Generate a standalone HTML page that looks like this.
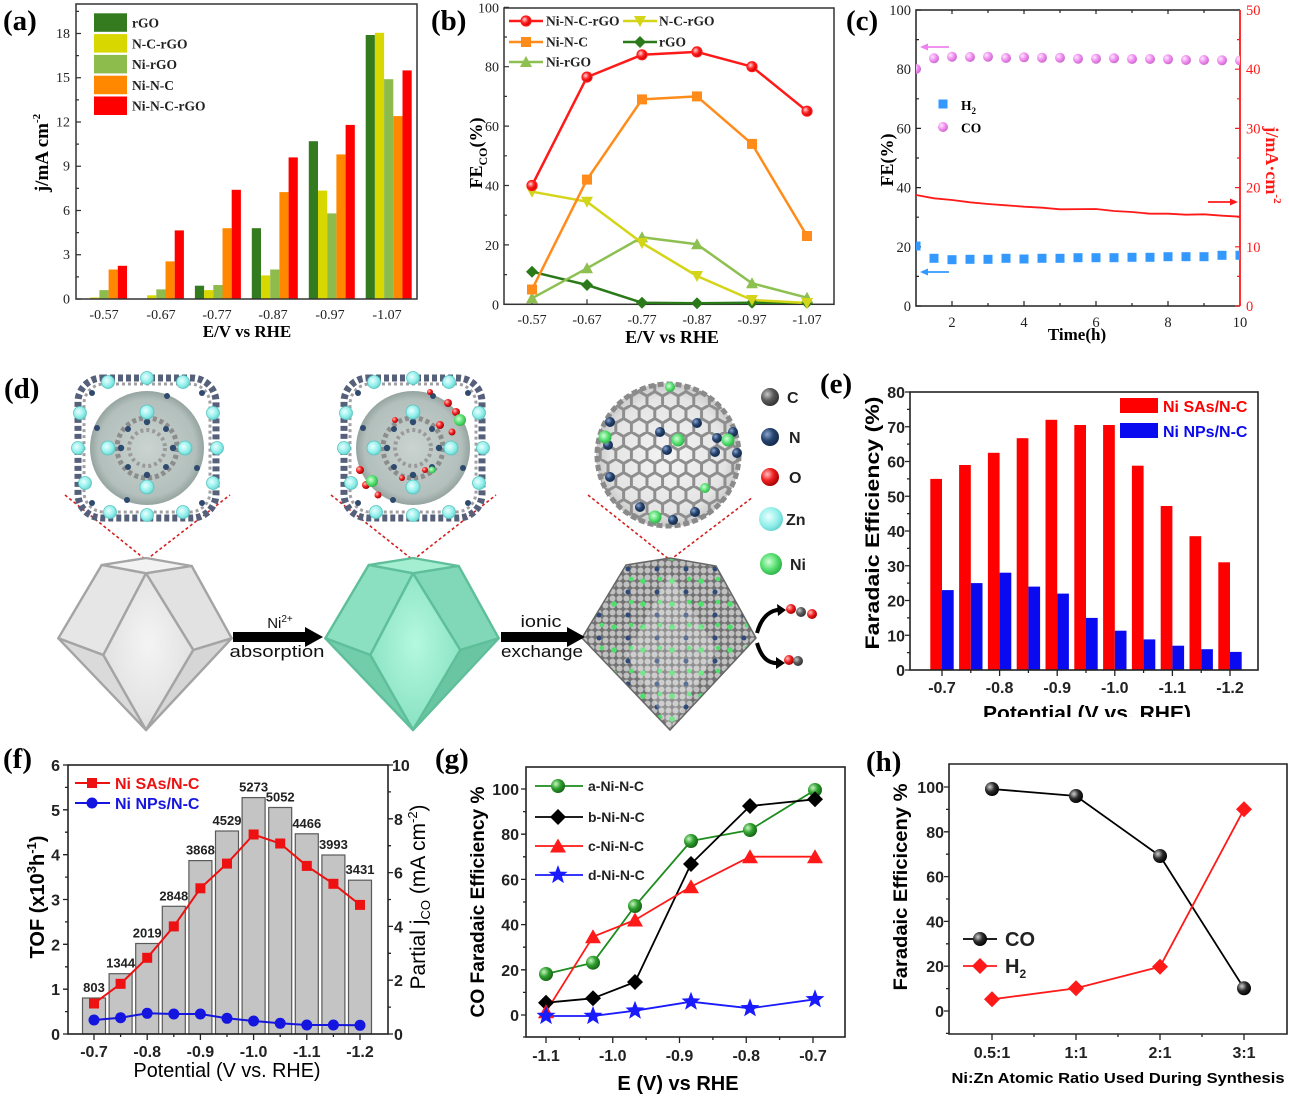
<!DOCTYPE html>
<html><head><meta charset="utf-8">
<style>
html,body{margin:0;padding:0;background:#fff;}
svg{display:block;}
.sf{font-family:"Liberation Serif",serif;}
.ss{font-family:"Liberation Sans",sans-serif;}
</style></head>
<body>
<svg width="1289" height="1099" viewBox="0 0 1289 1099" xmlns="http://www.w3.org/2000/svg" xmlns:xlink="http://www.w3.org/1999/xlink">
<defs>
<radialGradient id="gG" cx="0.35" cy="0.35" r="0.7"><stop offset="0" stop-color="#c8f5c0"/><stop offset="0.5" stop-color="#2ea02e"/><stop offset="1" stop-color="#156015"/></radialGradient>
<radialGradient id="gK" cx="0.35" cy="0.35" r="0.7"><stop offset="0" stop-color="#d0d0d0"/><stop offset="0.5" stop-color="#2a2a2a"/><stop offset="1" stop-color="#000"/></radialGradient>
<radialGradient id="gV" cx="0.35" cy="0.35" r="0.7"><stop offset="0" stop-color="#fde8fd"/><stop offset="0.55" stop-color="#f08cf0"/><stop offset="1" stop-color="#c868c8"/></radialGradient>
<radialGradient id="gR" cx="0.35" cy="0.35" r="0.7"><stop offset="0" stop-color="#ffd8d8"/><stop offset="0.5" stop-color="#ff2020"/><stop offset="1" stop-color="#c00000"/></radialGradient>
<radialGradient id="gC" cx="0.35" cy="0.35" r="0.7"><stop offset="0" stop-color="#c8c8c8"/><stop offset="0.5" stop-color="#5a5a5a"/><stop offset="1" stop-color="#303030"/></radialGradient>
<radialGradient id="gN" cx="0.35" cy="0.35" r="0.7"><stop offset="0" stop-color="#8aa6d0"/><stop offset="0.5" stop-color="#27446e"/><stop offset="1" stop-color="#12284a"/></radialGradient>
<radialGradient id="gO" cx="0.35" cy="0.35" r="0.7"><stop offset="0" stop-color="#ffc0c0"/><stop offset="0.5" stop-color="#f02020"/><stop offset="1" stop-color="#a00000"/></radialGradient>
<radialGradient id="gZ" cx="0.4" cy="0.4" r="0.7"><stop offset="0" stop-color="#eaffff"/><stop offset="0.6" stop-color="#8feeea"/><stop offset="1" stop-color="#5cc8c4"/></radialGradient>
<radialGradient id="gNi" cx="0.4" cy="0.4" r="0.7"><stop offset="0" stop-color="#d0ffd8"/><stop offset="0.55" stop-color="#50dd6a"/><stop offset="1" stop-color="#28a040"/></radialGradient>
<radialGradient id="gFul" cx="0.5" cy="0.5" r="0.5"><stop offset="0" stop-color="#f4f4f4"/><stop offset="0.8" stop-color="#e4e4e4"/><stop offset="1" stop-color="#c8c8c8"/></radialGradient>
<radialGradient id="gSph" cx="0.5" cy="0.5" r="0.5"><stop offset="0" stop-color="#c4cecb"/><stop offset="0.85" stop-color="#aab8b4"/><stop offset="1" stop-color="#8a9a96"/></radialGradient>
<radialGradient id="gWF" cx="0.5" cy="0.45" r="0.6"><stop offset="0" stop-color="#f4f4f4"/><stop offset="1" stop-color="#dedede"/></radialGradient>
<radialGradient id="gGF" cx="0.5" cy="0.45" r="0.6"><stop offset="0" stop-color="#b4f8e0"/><stop offset="1" stop-color="#86e0c0"/></radialGradient>
<pattern id="hex" width="15.59" height="27" patternUnits="userSpaceOnUse"><path d="M7.8,0L15.59,4.5L15.59,13.5L7.8,18L0,13.5L0,4.5Z M7.8,18L7.8,27" fill="none" stroke="#8e8e8e" stroke-width="3"/></pattern>
<pattern id="balls" width="7" height="7" patternUnits="userSpaceOnUse"><rect width="7" height="7" fill="#727272"/><circle cx="3.5" cy="3.5" r="3" fill="#c0c0c0"/></pattern>
<pattern id="dots" width="29" height="23" patternUnits="userSpaceOnUse"><circle cx="5" cy="6" r="2.8" fill="#4ee06a"/><circle cx="19" cy="17" r="2.5" fill="#2e4a78"/><circle cx="22" cy="4" r="2.3" fill="#4ee06a"/></pattern>
<path id="tdn" d="M-6,-5H6L0,6Z"/>
<path id="tup" d="M-6,5H6L0,-6Z"/>
<path id="tup8" d="M-8,6.5H8L0,-7.5Z"/>
<path id="dia" d="M0,-6L6,0L0,6L-6,0Z"/>
<path id="dia8" d="M0,-8L8,0L0,8L-8,0Z"/>
<rect id="sq" x="-5" y="-5" width="10" height="10"/>
<rect id="sq4" x="-4.5" y="-4.5" width="9" height="9"/>
<path id="star" d="M0,-10L2.5,-3.4L9.5,-3.1L4,1.3L5.9,8.1L0,4.2L-5.9,8.1L-4,1.3L-9.5,-3.1L-2.5,-3.4Z"/>
<g id="mof">
 <circle r="57" fill="url(#gSph)" opacity="0.9"/>
 <rect x="-69" y="-70" width="138" height="140" rx="24" fill="none" stroke="#56607a" stroke-width="7" stroke-dasharray="5 3"/>
 <rect x="-63" y="-64" width="126" height="128" rx="20" fill="none" stroke="#a0a0a4" stroke-width="3" stroke-dasharray="3 3"/>
 <circle r="30" fill="none" stroke="#8c8c8c" stroke-width="5" stroke-dasharray="4 3"/>
 <circle r="18" fill="none" stroke="#9a9a9a" stroke-width="4" stroke-dasharray="3 3"/>
 <g fill="#2e4a6e">
  <circle cx="0" cy="-26" r="3.2"/><circle cx="0" cy="27" r="3.2"/><circle cx="-26" cy="0" r="3.2"/><circle cx="26" cy="0" r="3.2"/>
  <circle cx="-19" cy="-19" r="3"/><circle cx="19" cy="19" r="3"/><circle cx="19" cy="-19" r="3"/><circle cx="-19" cy="19" r="3"/>
  <circle cx="-55" cy="-55" r="3"/><circle cx="55" cy="-55" r="3"/><circle cx="-55" cy="55" r="3"/><circle cx="55" cy="55" r="3"/>
  <circle cx="-50" cy="-20" r="3"/><circle cx="50" cy="20" r="3"/><circle cx="-20" cy="52" r="3"/><circle cx="20" cy="-52" r="3"/>
 </g>
 <g fill="url(#gZ)" stroke="#5ac4c0" stroke-width="0.8">
  <circle cx="-39" cy="-66" r="6.5"/><circle cx="0" cy="-70" r="6.5"/><circle cx="36" cy="-66" r="6.5"/>
  <circle cx="-67" cy="-35" r="6.5"/><circle cx="-69" cy="0" r="6.5"/><circle cx="-62" cy="35" r="6.5"/>
  <circle cx="66" cy="-35" r="6.5"/><circle cx="70" cy="0" r="6.5"/><circle cx="66" cy="35" r="6.5"/>
  <circle cx="-37" cy="64" r="6.5"/><circle cx="0" cy="67" r="6.5"/><circle cx="36" cy="64" r="6.5"/>
  <circle cx="0" cy="-36" r="7"/><circle cx="0" cy="39" r="7"/><circle cx="-39" cy="0" r="7"/><circle cx="38" cy="0" r="7"/>
 </g>
</g>
<clipPath id="cc"><rect x="916" y="10" width="324" height="296"/></clipPath>
<clipPath id="ce"><rect x="820" y="600" width="469" height="117"/></clipPath>
<clipPath id="cful"><circle cx="668" cy="455" r="72"/></clipPath>
<clipPath id="crp"><path d="M626,565L670,558L716,566L756,638L670,730L582,638Z"/></clipPath>
</defs>
<rect width="1289" height="1099" fill="#fff"/>

<!-- ================= (a) ================= -->
<g class="sf">
<text x="3" y="30" font-size="29" font-weight="bold">(a)</text>
<g>
<rect x="90.2" y="297.5" width="9.2" height="1.5" fill="#d8d800"/>
<rect x="99.4" y="290.1" width="9.2" height="8.9" fill="#8dbb4c"/>
<rect x="108.6" y="269.5" width="9.2" height="29.5" fill="#ff8800"/>
<rect x="117.8" y="265.8" width="9.2" height="33.2" fill="#ff0000"/>
<rect x="147.1" y="295.3" width="9.2" height="3.7" fill="#d8d800"/>
<rect x="156.3" y="289.4" width="9.2" height="9.6" fill="#8dbb4c"/>
<rect x="165.5" y="261.4" width="9.2" height="37.6" fill="#ff8800"/>
<rect x="174.7" y="230.4" width="9.2" height="68.6" fill="#ff0000"/>
<rect x="194.9" y="285.7" width="9.2" height="13.3" fill="#347a1f"/>
<rect x="204.1" y="290.1" width="9.2" height="8.9" fill="#d8d800"/>
<rect x="213.3" y="285.0" width="9.2" height="14" fill="#8dbb4c"/>
<rect x="222.5" y="228.2" width="9.2" height="70.8" fill="#ff8800"/>
<rect x="231.7" y="189.8" width="9.2" height="109.2" fill="#ff0000"/>
<rect x="251.8" y="228.2" width="9.2" height="70.8" fill="#347a1f"/>
<rect x="261" y="275.4" width="9.2" height="23.6" fill="#d8d800"/>
<rect x="270.2" y="269.5" width="9.2" height="29.5" fill="#8dbb4c"/>
<rect x="279.4" y="192.1" width="9.2" height="106.9" fill="#ff8800"/>
<rect x="288.6" y="157.4" width="9.2" height="141.6" fill="#ff0000"/>
<rect x="308.8" y="141.2" width="9.2" height="157.8" fill="#347a1f"/>
<rect x="318" y="190.6" width="9.2" height="108.4" fill="#d8d800"/>
<rect x="327.2" y="213.4" width="9.2" height="85.6" fill="#8dbb4c"/>
<rect x="336.4" y="154.4" width="9.2" height="144.6" fill="#ff8800"/>
<rect x="345.6" y="124.9" width="9.2" height="174.1" fill="#ff0000"/>
<rect x="365.7" y="35" width="9.2" height="264" fill="#347a1f"/>
<rect x="374.9" y="32.8" width="9.2" height="266.2" fill="#d8d800"/>
<rect x="384.1" y="79.2" width="9.2" height="219.8" fill="#8dbb4c"/>
<rect x="393.3" y="116.1" width="9.2" height="182.9" fill="#ff8800"/>
<rect x="402.5" y="70.4" width="9.2" height="228.6" fill="#ff0000"/>
</g>
<rect x="76" y="4" width="341" height="295" fill="none" stroke="#333" stroke-width="1.5"/>
<path d="M76,299h5M76,254.75h5M76,210.5h5M76,166.25h5M76,122h5M76,77.75h5M76,33.5h5M76,276.9h3M76,232.6h3M76,188.4h3M76,144.1h3M76,99.9h3M76,55.6h3M76,11.4h3" stroke="#333" stroke-width="1.2"/>
<g font-size="14" text-anchor="end" fill="#222">
<text x="70" y="303.5">0</text><text x="70" y="259.2">3</text><text x="70" y="215">6</text><text x="70" y="170.7">9</text><text x="70" y="126.5">12</text><text x="70" y="82.2">15</text><text x="70" y="38">18</text>
</g>
<g font-size="14" text-anchor="middle" fill="#222">
<text x="104" y="319">-0.57</text><text x="161" y="319">-0.67</text><text x="217" y="319">-0.77</text><text x="273" y="319">-0.87</text><text x="330" y="319">-0.97</text><text x="387" y="319">-1.07</text>
</g>
<text x="247" y="337" font-size="17" font-weight="bold" text-anchor="middle">E/V vs RHE</text>
<text transform="translate(48,153) rotate(-90)" font-size="19" font-weight="bold" text-anchor="middle">j/mA cm<tspan font-size="11" dy="-8">-2</tspan></text>
<rect x="94" y="13.3" width="33" height="18.5" fill="#347a1f"/>
<rect x="94" y="34.1" width="33" height="18.5" fill="#d8d800"/>
<rect x="94" y="54.9" width="33" height="18.5" fill="#8dbb4c"/>
<rect x="94" y="75.7" width="33" height="18.5" fill="#ff8800"/>
<rect x="94" y="96.5" width="33" height="18.5" fill="#ff0000"/>
<g font-size="13.5" font-weight="bold" fill="#222">
<text x="132" y="27.5">rGO</text><text x="132" y="48.3">N-C-rGO</text><text x="132" y="69.1">Ni-rGO</text><text x="132" y="89.9">Ni-N-C</text><text x="132" y="110.7">Ni-N-C-rGO</text>
</g>
</g>

<!-- ================= (b) ================= -->
<g class="sf">
<text x="431" y="30" font-size="29" font-weight="bold">(b)</text>
<rect x="504" y="8" width="330" height="296.3" fill="none" stroke="#333" stroke-width="1.5"/>
<path d="M504,304.3h5M504,244.9h5M504,185.5h5M504,126.1h5M504,66.7h5M504,7.3h5M504,274.6h3M504,215.2h3M504,155.8h3M504,96.4h3M504,37h3M532,304.3v-5M587,304.3v-5M642,304.3v-5M697,304.3v-5M752,304.3v-5M807,304.3v-5" stroke="#333" stroke-width="1.2"/>
<g font-size="14" text-anchor="end" fill="#222">
<text x="499" y="309.3">0</text><text x="499" y="249.9">20</text><text x="499" y="190.5">40</text><text x="499" y="131.1">60</text><text x="499" y="71.7">80</text><text x="499" y="12.3">100</text>
</g>
<g font-size="14" text-anchor="middle" fill="#222">
<text x="532" y="324">-0.57</text><text x="587" y="324">-0.67</text><text x="642" y="324">-0.77</text><text x="697" y="324">-0.87</text><text x="752" y="324">-0.97</text><text x="807" y="324">-1.07</text>
</g>
<text x="672" y="343" font-size="18" font-weight="bold" text-anchor="middle">E/V vs RHE</text>
<text transform="translate(482,153) rotate(-90)" font-size="18" font-weight="bold" text-anchor="middle">FE<tspan font-size="12" dy="5">CO</tspan><tspan dy="-5">(%)</tspan></text>
<g fill="none" stroke-width="2.5" stroke-linejoin="round">
<polyline points="532,271.7 587,285 642,302.7 697,303.3 752,302.7 807,302.7" stroke="#2a7a1a"/>
<polyline points="532,298.3 587,268.3 642,237.3 697,244.3 752,283.3 807,297.7" stroke="#8dc050"/>
<polyline points="532,191.7 587,201.7 642,243 697,276 752,300 807,303" stroke="#d4d418"/>
<polyline points="532,289.5 587,179.6 642,99.4 697,96.4 752,143.9 807,236" stroke="#ff8c1a"/>
<polyline points="532,185.5 587,77.1 642,54.8 697,51.9 752,66.7 807,111.2" stroke="#ff1a1a"/>
</g>
<g fill="#2a7a1a"><use xlink:href="#dia" x="532" y="271.7"/><use xlink:href="#dia" x="587" y="285"/><use xlink:href="#dia" x="642" y="302.7"/><use xlink:href="#dia" x="697" y="303.3"/><use xlink:href="#dia" x="752" y="302.7"/><use xlink:href="#dia" x="807" y="302.7"/></g>
<g fill="#8dc050"><use xlink:href="#tup" x="532" y="298.3"/><use xlink:href="#tup" x="587" y="268.3"/><use xlink:href="#tup" x="642" y="237.3"/><use xlink:href="#tup" x="697" y="244.3"/><use xlink:href="#tup" x="752" y="283.3"/><use xlink:href="#tup" x="807" y="297.7"/></g>
<g fill="#d4d418"><use xlink:href="#tdn" x="532" y="191.7"/><use xlink:href="#tdn" x="587" y="201.7"/><use xlink:href="#tdn" x="642" y="243"/><use xlink:href="#tdn" x="697" y="276"/><use xlink:href="#tdn" x="752" y="300"/><use xlink:href="#tdn" x="807" y="303"/></g>
<g fill="#ff8c1a"><use xlink:href="#sq" x="532" y="289.5"/><use xlink:href="#sq" x="587" y="179.6"/><use xlink:href="#sq" x="642" y="99.4"/><use xlink:href="#sq" x="697" y="96.4"/><use xlink:href="#sq" x="752" y="143.9"/><use xlink:href="#sq" x="807" y="236"/></g>
<g fill="url(#gR)" stroke="#ff1a1a" stroke-width="1.2"><circle cx="532" cy="185.5" r="5"/><circle cx="587" cy="77.1" r="5"/><circle cx="642" cy="54.8" r="5"/><circle cx="697" cy="51.9" r="5"/><circle cx="752" cy="66.7" r="5"/><circle cx="807" cy="111.2" r="5"/></g>
<g stroke-width="2.5">
<line x1="509" y1="21" x2="543" y2="21" stroke="#ff1a1a"/><line x1="623" y1="21" x2="657" y2="21" stroke="#d4d418"/>
<line x1="509" y1="42" x2="543" y2="42" stroke="#ff8c1a"/><line x1="623" y1="42" x2="657" y2="42" stroke="#2a7a1a"/>
<line x1="509" y1="62" x2="543" y2="62" stroke="#8dc050"/>
</g>
<circle cx="526" cy="21" r="5" fill="url(#gR)" stroke="#ff1a1a" stroke-width="1.2"/>
<use xlink:href="#tdn" x="640" y="21" fill="#d4d418"/>
<use xlink:href="#sq" x="526" y="42" fill="#ff8c1a"/>
<use xlink:href="#dia" x="640" y="42" fill="#2a7a1a"/>
<use xlink:href="#tup" x="526" y="62" fill="#8dc050"/>
<g font-size="13.5" font-weight="bold" fill="#222">
<text x="546" y="25.5">Ni-N-C-rGO</text><text x="659" y="25.5">N-C-rGO</text><text x="546" y="46.5">Ni-N-C</text><text x="659" y="46.5">rGO</text><text x="546" y="66.5">Ni-rGO</text>
</g>
</g>

<!-- ================= (c) ================= -->
<g class="sf">
<text x="846" y="30" font-size="29" font-weight="bold">(c)</text>
<path d="M1240,10H916V306H1240" fill="none" stroke="#222" stroke-width="1.5"/>
<line x1="1240" y1="10" x2="1240" y2="306" stroke="#ff1a1a" stroke-width="1.8"/>
<path d="M916,306h5M916,246.8h5M916,187.6h5M916,128.4h5M916,69.2h5M916,10h5M916,276.4h3M916,217.2h3M916,158h3M916,98.8h3M916,39.6h3M952,306v-5M988,306v-3M1024,306v-5M1060,306v-3M1096,306v-5M1132,306v-3M1168,306v-5M1204,306v-3M952,10v4M988,10v3M1024,10v4M1060,10v3M1096,10v4M1132,10v3M1168,10v4M1204,10v3" stroke="#222" stroke-width="1.2"/>
<path d="M1240,306h-5M1240,246.8h-5M1240,187.6h-5M1240,128.4h-5M1240,69.2h-5M1240,276.4h-3M1240,217.2h-3M1240,158h-3M1240,98.8h-3M1240,39.6h-3" stroke="#ff1a1a" stroke-width="1.2"/>
<g font-size="14.5" text-anchor="end" fill="#222">
<text x="911" y="311">0</text><text x="911" y="251.8">20</text><text x="911" y="192.6">40</text><text x="911" y="133.4">60</text><text x="911" y="74.2">80</text><text x="911" y="15">100</text>
</g>
<g font-size="14.5" fill="#ff1a1a">
<text x="1246" y="311">0</text><text x="1246" y="251.8">10</text><text x="1246" y="192.6">20</text><text x="1246" y="133.4">30</text><text x="1246" y="74.2">40</text><text x="1246" y="15">50</text>
</g>
<g font-size="14.5" text-anchor="middle" fill="#222">
<text x="952" y="327">2</text><text x="1024" y="327">4</text><text x="1096" y="327">6</text><text x="1168" y="327">8</text><text x="1240" y="327">10</text>
</g>
<text x="1077" y="340" font-size="17" font-weight="bold" text-anchor="middle">Time(h)</text>
<text transform="translate(893,160) rotate(-90)" font-size="18" font-weight="bold" text-anchor="middle">FE(%)</text>
<text transform="translate(1266,165) rotate(90)" font-size="18" font-weight="bold" text-anchor="middle" fill="#ff1a1a">j/mA·cm<tspan font-size="11" dy="-8">-2</tspan></text>
<g clip-path="url(#cc)">
<polyline points="916,195 934,198.3 952,200 970,202.3 988,204 1006,205.3 1024,206.7 1042,207.7 1060,209.3 1096,209 1114,211 1132,212 1150,213.7 1168,213.7 1186,214.7 1204,214.3 1222,215.7 1240,216.7" fill="none" stroke="#ff1a1a" stroke-width="1.8"/>
<g fill="url(#gV)">
<circle cx="916" cy="69" r="5"/><circle cx="934" cy="58.3" r="5"/><circle cx="952" cy="56.7" r="5"/><circle cx="970" cy="57" r="5"/><circle cx="988" cy="56.7" r="5"/><circle cx="1006" cy="58" r="5"/><circle cx="1024" cy="57.3" r="5"/><circle cx="1042" cy="57.7" r="5"/><circle cx="1060" cy="57.7" r="5"/><circle cx="1078" cy="58.7" r="5"/><circle cx="1096" cy="58.7" r="5"/><circle cx="1114" cy="58.3" r="5"/><circle cx="1132" cy="59" r="5"/><circle cx="1150" cy="59" r="5"/><circle cx="1168" cy="59.3" r="5"/><circle cx="1186" cy="60" r="5"/><circle cx="1204" cy="60" r="5"/><circle cx="1222" cy="60.3" r="5"/><circle cx="1240" cy="60.5" r="5"/>
</g>
<g fill="#3399ff">
<use xlink:href="#sq4" x="916" y="246"/><use xlink:href="#sq4" x="934" y="258.3"/><use xlink:href="#sq4" x="952" y="259.7"/><use xlink:href="#sq4" x="970" y="259.3"/><use xlink:href="#sq4" x="988" y="259.3"/><use xlink:href="#sq4" x="1006" y="258.3"/><use xlink:href="#sq4" x="1024" y="259"/><use xlink:href="#sq4" x="1042" y="258.3"/><use xlink:href="#sq4" x="1060" y="258.3"/><use xlink:href="#sq4" x="1078" y="257.7"/><use xlink:href="#sq4" x="1096" y="257.7"/><use xlink:href="#sq4" x="1114" y="257.7"/><use xlink:href="#sq4" x="1132" y="257.3"/><use xlink:href="#sq4" x="1150" y="257.3"/><use xlink:href="#sq4" x="1168" y="256.7"/><use xlink:href="#sq4" x="1186" y="256.7"/><use xlink:href="#sq4" x="1204" y="256.7"/><use xlink:href="#sq4" x="1222" y="255.3"/><use xlink:href="#sq4" x="1240" y="255.3"/>
</g>
</g>
<path d="M949,47H925" stroke="#ee82ee" stroke-width="1.8"/><path d="M920,47L928,43.5L928,50.5Z" fill="#ee82ee"/>
<path d="M949,272H925" stroke="#3399ff" stroke-width="1.8"/><path d="M920,272L928,268.5L928,275.5Z" fill="#3399ff"/>
<path d="M1208,202H1232" stroke="#ff1a1a" stroke-width="1.8"/><path d="M1238,202L1230,198.5L1230,205.5Z" fill="#ff1a1a"/>
<use xlink:href="#sq4" x="943" y="104" fill="#3399ff"/>
<circle cx="943" cy="127" r="5" fill="url(#gV)"/>
<text x="961" y="110" font-size="13.5" font-weight="bold">H<tspan font-size="9" dy="4">2</tspan></text>
<text x="961" y="132.5" font-size="13.5" font-weight="bold">CO</text>
</g>

<!-- ================= (d) ================= -->
<g>
<text x="4" y="398" class="sf" font-size="29" font-weight="bold">(d)</text>
<!-- dashed lines -->
<g stroke="#d42020" stroke-width="1.6" stroke-dasharray="3 2.5" fill="none">
<path d="M65,495L146,560L230,495"/>
<path d="M331,495L413,560L496,495"/>
<path d="M588,495L670,560L753,497"/>
</g>
<!-- MOF clusters -->
<use xlink:href="#mof" x="147" y="448"/>
<use xlink:href="#mof" x="413" y="448"/>
<g fill="url(#gO)">
<circle cx="448" cy="403" r="4"/><circle cx="456" cy="412" r="4"/><circle cx="440" cy="425" r="4"/><circle cx="452" cy="432" r="3.5"/><circle cx="360" cy="470" r="4"/><circle cx="366" cy="485" r="4"/><circle cx="378" cy="495" r="3.5"/><circle cx="395" cy="420" r="3"/><circle cx="425" cy="470" r="3"/><circle cx="402" cy="478" r="3"/><circle cx="430" cy="392" r="3"/>
</g>
<g fill="url(#gNi)"><circle cx="372" cy="481" r="6"/><circle cx="460" cy="420" r="6"/><circle cx="432" cy="470" r="3.5"/></g>
<!-- fullerene -->
<circle cx="668" cy="455" r="72" fill="url(#gFul)"/>
<g clip-path="url(#cful)"><rect x="590" y="380" width="160" height="150" fill="url(#hex)"/></g>
<circle cx="668" cy="455" r="71" fill="none" stroke="#8a8a8a" stroke-width="5" stroke-dasharray="6 3"/>
<g fill="url(#gN)">
<circle cx="610" cy="422" r="5"/><circle cx="608" cy="445" r="5"/><circle cx="660" cy="432" r="5"/><circle cx="667" cy="450" r="5"/><circle cx="697" cy="423" r="5"/><circle cx="717" cy="438" r="5"/><circle cx="715" cy="452" r="5"/><circle cx="733" cy="432" r="5"/><circle cx="737" cy="453" r="5"/><circle cx="610" cy="477" r="5"/><circle cx="640" cy="507" r="5"/><circle cx="673" cy="520" r="5"/><circle cx="695" cy="512" r="5"/>
</g>
<g fill="url(#gNi)">
<circle cx="605" cy="437" r="6.5"/><circle cx="678" cy="440" r="6.5"/><circle cx="728" cy="440" r="6.5"/><circle cx="655" cy="517" r="6.5"/><circle cx="670" cy="387" r="5"/><circle cx="705" cy="488" r="5"/>
</g>
<!-- white polyhedron: TL(101.7,565) T(146,558) TR(191.7,566) F(146,573.3) L(58.3,638.3) R(231.7,638.3) FL(103.3,655) FR(193.3,650) B(146,730) -->
<g stroke="#a4a4a4" stroke-width="2.4" stroke-linejoin="round">
<path d="M101.7,565L146,558L191.7,566L146,573.3Z" fill="#f2f2f2"/>
<path d="M101.7,565L146,573.3L103.3,655L58.3,638.3Z" fill="#e6e6e6"/>
<path d="M191.7,566L231.7,638.3L193.3,650L146,573.3Z" fill="#e2e2e2"/>
<path d="M146,573.3L193.3,650L146,730L103.3,655Z" fill="url(#gWF)"/>
<path d="M58.3,638.3L103.3,655L146,730Z" fill="#dadada"/>
<path d="M231.7,638.3L146,730L193.3,650Z" fill="#d6d6d6"/>
</g>
<!-- green polyhedron (shift +267) -->
<g stroke="#5fbf9a" stroke-width="2.4" stroke-linejoin="round">
<path d="M368.7,565L413,558L458.7,566L413,573.3Z" fill="#a4eed2"/>
<path d="M368.7,565L413,573.3L370.3,655L325.3,638.3Z" fill="#8ae0c0"/>
<path d="M458.7,566L498.7,638.3L460.3,650L413,573.3Z" fill="#80d8b8"/>
<path d="M413,573.3L460.3,650L413,730L370.3,655Z" fill="url(#gGF)"/>
<path d="M325.3,638.3L370.3,655L413,730Z" fill="#72cdaa"/>
<path d="M498.7,638.3L413,730L460.3,650Z" fill="#6ac6a2"/>
</g>
<!-- ball polyhedron -->
<g clip-path="url(#crp)">
<rect x="580" y="555" width="180" height="180" fill="url(#balls)"/>
<rect x="580" y="555" width="180" height="180" fill="url(#dots)"/>
<path d="M670,573L717,650L670,730L627,655Z" fill="#fff" opacity="0.22"/>
</g>
<path d="M626,565L670,558L716,566L756,638L670,730L582,638Z" fill="none" stroke="#666" stroke-width="1.5"/>
<!-- arrows -->
<rect x="233" y="632" width="74" height="10" fill="#000"/><path d="M305,627L323,637L305,647Z" fill="#000"/>
<rect x="501" y="632" width="68" height="10" fill="#000"/><path d="M567,627L585,637L567,647Z" fill="#000"/>
<g class="ss" text-anchor="middle" fill="#111">
<text x="280" y="628" font-size="15">Ni<tspan font-size="10" dy="-6">2+</tspan></text>
<text x="277" y="657" font-size="17" textLength="95" lengthAdjust="spacingAndGlyphs">absorption</text>
<text x="541" y="627" font-size="17" textLength="41" lengthAdjust="spacingAndGlyphs">ionic</text>
<text x="542" y="657" font-size="17" textLength="82" lengthAdjust="spacingAndGlyphs">exchange</text>
</g>
<!-- CO2 conversion -->
<path d="M757,633C762,615 772,609 782,610" fill="none" stroke="#000" stroke-width="4"/>
<path d="M786,610L777,604L778,616Z" fill="#000"/>
<path d="M757,643C762,660 770,664 780,663" fill="none" stroke="#000" stroke-width="4"/>
<path d="M785,663L776,657L776,669Z" fill="#000"/>
<circle cx="791" cy="609" r="5" fill="url(#gO)"/><circle cx="801" cy="612" r="5" fill="url(#gC)"/><circle cx="812" cy="614" r="5" fill="url(#gO)"/>
<circle cx="789" cy="660" r="5" fill="url(#gO)"/><circle cx="798" cy="661" r="5" fill="url(#gC)"/>
<!-- atom legend -->
<circle cx="770" cy="397" r="9" fill="url(#gC)"/>
<circle cx="770" cy="437" r="9" fill="url(#gN)"/>
<circle cx="770" cy="477" r="9" fill="url(#gO)"/>
<circle cx="771" cy="519" r="12" fill="url(#gZ)"/>
<circle cx="771" cy="564" r="11" fill="url(#gNi)"/>
<g class="ss" font-size="16" font-weight="bold" fill="#222">
<text x="787" y="403">C</text><text x="789" y="443">N</text><text x="789" y="483">O</text><text x="786" y="525">Zn</text><text x="790" y="570">Ni</text>
</g>
</g>

<!-- ================= (e) ================= -->
<g class="ss">
<text x="820" y="393" class="sf" font-size="29" font-weight="bold">(e)</text>
<g fill="#ff0000">
<rect x="930.3" y="478.9" width="11.7" height="191.1"/><rect x="959.1" y="465" width="11.7" height="205"/><rect x="987.9" y="452.8" width="11.7" height="217.2"/><rect x="1016.7" y="438.2" width="11.7" height="231.8"/><rect x="1045.5" y="419.8" width="11.7" height="250.2"/><rect x="1074.3" y="425" width="11.7" height="245"/><rect x="1103.1" y="425" width="11.7" height="245"/><rect x="1131.9" y="465.7" width="11.7" height="204.3"/><rect x="1160.7" y="506" width="11.7" height="164"/><rect x="1189.5" y="536.2" width="11.7" height="133.8"/><rect x="1218.3" y="562.3" width="11.7" height="107.7"/>
</g>
<g fill="#0a0af0">
<rect x="942" y="590.1" width="11.7" height="79.9"/><rect x="970.8" y="583.1" width="11.7" height="86.9"/><rect x="999.6" y="572.7" width="11.7" height="97.3"/><rect x="1028.4" y="586.6" width="11.7" height="83.4"/><rect x="1057.2" y="593.6" width="11.7" height="76.4"/><rect x="1086" y="617.9" width="11.7" height="52.1"/><rect x="1114.8" y="630.7" width="11.7" height="39.3"/><rect x="1143.6" y="639.4" width="11.7" height="30.6"/><rect x="1172.4" y="645.7" width="11.7" height="24.3"/><rect x="1201.2" y="649.2" width="11.7" height="20.8"/><rect x="1230" y="651.9" width="11.7" height="18.1"/>
</g>
<rect x="910" y="392" width="348" height="278" fill="none" stroke="#222" stroke-width="1.6"/>
<path d="M910,670h-5M910,635.25h-5M910,600.5h-5M910,565.75h-5M910,531h-5M910,496.25h-5M910,461.5h-5M910,426.75h-5M910,392h-5M910,652.6h-3M910,617.9h-3M910,583.1h-3M910,548.4h-3M910,513.6h-3M910,478.9h-3M910,444.1h-3M910,409.4h-3M942,670v6M970.8,670v3M999.6,670v6M1028.4,670v3M1057.2,670v6M1086,670v3M1114.8,670v6M1143.6,670v3M1172.4,670v6M1201.2,670v3M1230,670v6" stroke="#222" stroke-width="1.3"/>
<g font-size="16" font-weight="bold" text-anchor="end" fill="#222">
<text x="905" y="676">0</text><text x="905" y="641.25">10</text><text x="905" y="606.5">20</text><text x="905" y="571.75">30</text><text x="905" y="537">40</text><text x="905" y="502.25">50</text><text x="905" y="467.5">60</text><text x="905" y="432.75">70</text><text x="905" y="398">80</text>
</g>
<g font-size="16" font-weight="bold" text-anchor="middle" fill="#222">
<text x="942" y="693">-0.7</text><text x="999.6" y="693">-0.8</text><text x="1057.2" y="693">-0.9</text><text x="1114.8" y="693">-1.0</text><text x="1172.4" y="693">-1.1</text><text x="1230" y="693">-1.2</text>
</g>
<text x="1087" y="720" clip-path="url(#ce)" font-size="20" font-weight="bold" text-anchor="middle" textLength="208" lengthAdjust="spacingAndGlyphs">Potential (V vs. RHE)</text>
<text transform="translate(879,523) rotate(-90)" font-size="19" font-weight="bold" text-anchor="middle" textLength="253" lengthAdjust="spacingAndGlyphs">Faradaic Efficiency (%)</text>
<rect x="1120" y="398" width="38" height="15" fill="#ff0000"/>
<rect x="1120" y="423" width="38" height="15" fill="#0a0af0"/>
<text x="1163" y="412" font-size="16" font-weight="bold" fill="#ff0000">Ni SAs/N-C</text>
<text x="1163" y="437" font-size="16" font-weight="bold" fill="#0a0af0">Ni NPs/N-C</text>
</g>

<!-- ================= (f) ================= -->
<g class="ss">
<text x="3" y="768" class="sf" font-size="29" font-weight="bold">(f)</text>
<g fill="#c4c4c4" stroke="#5a5a5a" stroke-width="1.2">
<rect x="82.5" y="998" width="23" height="36"/><rect x="109.1" y="973.7" width="23" height="60.3"/><rect x="135.7" y="943.5" width="23" height="90.5"/><rect x="162.3" y="906.3" width="23" height="127.7"/><rect x="188.9" y="860.6" width="23" height="173.4"/><rect x="215.5" y="831" width="23" height="203"/><rect x="242.1" y="797.6" width="23" height="236.4"/><rect x="268.7" y="807.5" width="23" height="226.5"/><rect x="295.3" y="833.8" width="23" height="200.2"/><rect x="321.9" y="855" width="23" height="179"/><rect x="348.5" y="880.2" width="23" height="153.8"/>
</g>
<g font-size="13" font-weight="bold" text-anchor="middle" fill="#222">
<text x="94" y="992">803</text><text x="120.6" y="967.7">1344</text><text x="147.2" y="937.5">2019</text><text x="173.8" y="900.3">2848</text><text x="200.4" y="854.6">3868</text><text x="227" y="825">4529</text><text x="253.6" y="791.6">5273</text><text x="280.2" y="801.5">5052</text><text x="306.8" y="827.8">4466</text><text x="333.4" y="849">3993</text><text x="360" y="874.2">3431</text>
</g>
<polyline points="94,1003.5 120.6,983.8 147.2,957.8 173.8,926.4 200.4,888.3 227,863.6 253.6,834.5 280.2,843.5 306.8,865.9 333.4,883.8 360,904.9" fill="none" stroke="#ee1111" stroke-width="2"/>
<g fill="#ee1111"><use xlink:href="#sq" x="94" y="1003.5"/><use xlink:href="#sq" x="120.6" y="983.8"/><use xlink:href="#sq" x="147.2" y="957.8"/><use xlink:href="#sq" x="173.8" y="926.4"/><use xlink:href="#sq" x="200.4" y="888.3"/><use xlink:href="#sq" x="227" y="863.6"/><use xlink:href="#sq" x="253.6" y="834.5"/><use xlink:href="#sq" x="280.2" y="843.5"/><use xlink:href="#sq" x="306.8" y="865.9"/><use xlink:href="#sq" x="333.4" y="883.8"/><use xlink:href="#sq" x="360" y="904.9"/></g>
<polyline points="94,1020 120.6,1017.7 147.2,1013.3 173.8,1014 200.4,1014 227,1018.3 253.6,1021 280.2,1023.3 306.8,1025 333.4,1025 360,1025.3" fill="none" stroke="#1515e0" stroke-width="2"/>
<g fill="#1515e0"><circle cx="94" cy="1020" r="5.5"/><circle cx="120.6" cy="1017.7" r="5.5"/><circle cx="147.2" cy="1013.3" r="5.5"/><circle cx="173.8" cy="1014" r="5.5"/><circle cx="200.4" cy="1014" r="5.5"/><circle cx="227" cy="1018.3" r="5.5"/><circle cx="253.6" cy="1021" r="5.5"/><circle cx="280.2" cy="1023.3" r="5.5"/><circle cx="306.8" cy="1025" r="5.5"/><circle cx="333.4" cy="1025" r="5.5"/><circle cx="360" cy="1025.3" r="5.5"/></g>
<rect x="68" y="765" width="320" height="269" fill="none" stroke="#222" stroke-width="1.6"/>
<path d="M68,1034h-5M68,989.2h-5M68,944.3h-5M68,899.5h-5M68,854.7h-5M68,809.8h-5M68,765h-5M68,1011.6h-3M68,966.8h-3M68,921.9h-3M68,877.1h-3M68,832.2h-3M68,787.4h-3M388,1034h5M388,1007.1h3M388,980.2h5M388,953.3h3M388,926.4h5M388,899.5h3M388,872.6h5M388,845.7h3M388,818.8h5M388,791.9h3M388,765h5M94,1034v6M120.6,1034v3M147.2,1034v6M173.8,1034v3M200.4,1034v6M227,1034v3M253.6,1034v6M280.2,1034v3M306.8,1034v6M333.4,1034v3M360,1034v6" stroke="#222" stroke-width="1.3"/>
<g font-size="16" font-weight="bold" text-anchor="end" fill="#222">
<text x="60" y="1040">0</text><text x="60" y="995.2">1</text><text x="60" y="950.3">2</text><text x="60" y="905.5">3</text><text x="60" y="860.7">4</text><text x="60" y="815.8">5</text><text x="60" y="771">6</text>
</g>
<g font-size="16" font-weight="bold" fill="#222">
<text x="394" y="1040">0</text><text x="394" y="986.2">2</text><text x="394" y="932.4">4</text><text x="394" y="878.6">6</text><text x="394" y="824.8">8</text><text x="392" y="771">10</text>
</g>
<g font-size="16" font-weight="bold" text-anchor="middle" fill="#222">
<text x="94" y="1057">-0.7</text><text x="147.2" y="1057">-0.8</text><text x="200.4" y="1057">-0.9</text><text x="253.6" y="1057">-1.0</text><text x="306.8" y="1057">-1.1</text><text x="360" y="1057">-1.2</text>
</g>
<text x="227" y="1077" font-size="20" text-anchor="middle" textLength="187" lengthAdjust="spacingAndGlyphs">Potential (V vs. RHE)</text>
<text transform="translate(44,897) rotate(-90)" font-size="20" font-weight="bold" text-anchor="middle">TOF (x10<tspan font-size="13" dy="-8">3</tspan><tspan dy="8">h</tspan><tspan font-size="13" dy="-8">-1</tspan><tspan dy="8">)</tspan></text>
<text transform="translate(425,897) rotate(-90)" font-size="21" text-anchor="middle">Partial j<tspan font-size="13" dy="5">CO</tspan><tspan dy="-5"> (mA cm</tspan><tspan font-size="13" dy="-8">-2</tspan><tspan dy="8">)</tspan></text>
<line x1="75" y1="783" x2="110" y2="783" stroke="#ee1111" stroke-width="2"/>
<use xlink:href="#sq" x="92" y="783" fill="#ee1111"/>
<line x1="75" y1="803" x2="110" y2="803" stroke="#1515e0" stroke-width="2"/>
<circle cx="92" cy="803" r="5.5" fill="#1515e0"/>
<text x="115" y="789" font-size="16" font-weight="bold" fill="#ee1111">Ni SAs/N-C</text>
<text x="115" y="809" font-size="16" font-weight="bold" fill="#1515e0">Ni NPs/N-C</text>
</g>

<!-- ================= (g) ================= -->
<g class="ss">
<text x="435" y="768" class="sf" font-size="29" font-weight="bold">(g)</text>
<rect x="526" y="767" width="319" height="270" fill="none" stroke="#222" stroke-width="1.6"/>
<path d="M526,1037h-3M526,1015h-5M526,992.4h-3M526,969.8h-5M526,947.2h-3M526,924.6h-5M526,902h-3M526,879.4h-5M526,856.8h-3M526,834.2h-5M526,811.6h-3M526,789h-5M546,1037v6M579.4,1037v3M612.75,1037v6M646.1,1037v3M679.5,1037v6M712.9,1037v3M746.25,1037v6M779.6,1037v3M813,1037v6" stroke="#222" stroke-width="1.3"/>
<g font-size="16" font-weight="bold" text-anchor="end" fill="#222">
<text x="519" y="1021">0</text><text x="519" y="975.8">20</text><text x="519" y="930.6">40</text><text x="519" y="885.4">60</text><text x="519" y="840.2">80</text><text x="519" y="795">100</text>
</g>
<g font-size="16" font-weight="bold" text-anchor="middle" fill="#222">
<text x="546" y="1061">-1.1</text><text x="612.75" y="1061">-1.0</text><text x="679.5" y="1061">-0.9</text><text x="746.25" y="1061">-0.8</text><text x="813" y="1061">-0.7</text>
</g>
<text x="678" y="1090" font-size="20" font-weight="bold" text-anchor="middle">E (V) vs RHE</text>
<text transform="translate(484,902) rotate(-90)" font-size="19" font-weight="bold" text-anchor="middle" textLength="231" lengthAdjust="spacingAndGlyphs">CO Faradaic Efficiency %</text>
<g fill="none" stroke-width="1.8" stroke-linejoin="round">
<polyline points="546,974 593,962.7 635,906 691,841 750,830 815,790" stroke="#1e8c1e"/>
<polyline points="546,1002.7 593,998.3 635,982 691,864 750,806 815,799.3" stroke="#000"/>
<polyline points="546,1011.7 593,936.7 635,920 691,886.7 750,856.7 815,856.7" stroke="#ff1a1a"/>
<polyline points="546,1016 593,1016 635,1010.7 691,1001.7 750,1008.3 815,999.3" stroke="#1a1aff"/>
</g>
<g fill="url(#gG)"><circle cx="546" cy="974" r="7"/><circle cx="593" cy="962.7" r="7"/><circle cx="635" cy="906" r="7"/><circle cx="691" cy="841" r="7"/><circle cx="750" cy="830" r="7"/><circle cx="815" cy="790" r="7"/></g>
<g fill="#000"><use xlink:href="#dia8" x="546" y="1002.7"/><use xlink:href="#dia8" x="593" y="998.3"/><use xlink:href="#dia8" x="635" y="982"/><use xlink:href="#dia8" x="691" y="864"/><use xlink:href="#dia8" x="750" y="806"/><use xlink:href="#dia8" x="815" y="799.3"/></g>
<g fill="#ff1a1a"><use xlink:href="#tup8" x="546" y="1011.7"/><use xlink:href="#tup8" x="593" y="936.7"/><use xlink:href="#tup8" x="635" y="920"/><use xlink:href="#tup8" x="691" y="886.7"/><use xlink:href="#tup8" x="750" y="856.7"/><use xlink:href="#tup8" x="815" y="856.7"/></g>
<g fill="#1a1aff"><use xlink:href="#star" x="546" y="1016"/><use xlink:href="#star" x="593" y="1016"/><use xlink:href="#star" x="635" y="1010.7"/><use xlink:href="#star" x="691" y="1001.7"/><use xlink:href="#star" x="750" y="1008.3"/><use xlink:href="#star" x="815" y="999.3"/></g>
<g stroke-width="1.8"><line x1="535" y1="786" x2="583" y2="786" stroke="#1e8c1e"/><line x1="535" y1="817" x2="583" y2="817" stroke="#000"/><line x1="535" y1="846" x2="583" y2="846" stroke="#ff1a1a"/><line x1="535" y1="875" x2="583" y2="875" stroke="#1a1aff"/></g>
<circle cx="558" cy="786" r="7" fill="url(#gG)"/>
<use xlink:href="#dia8" x="558" y="817" fill="#000"/>
<use xlink:href="#tup8" x="558" y="846" fill="#ff1a1a"/>
<use xlink:href="#star" x="558" y="875" fill="#1a1aff"/>
<g font-size="14" font-weight="bold" fill="#222">
<text x="588" y="791">a-Ni-N-C</text><text x="588" y="822">b-Ni-N-C</text><text x="588" y="851">c-Ni-N-C</text><text x="588" y="880">d-Ni-N-C</text>
</g>
</g>

<!-- ================= (h) ================= -->
<g class="ss">
<text x="866" y="771" class="sf" font-size="29" font-weight="bold">(h)</text>
<path d="M949,1034V764H1287V1034Z" fill="none" stroke="#222" stroke-width="1.6"/>
<path d="M949,1033.4h-3M949,1011h-5M949,988.6h-3M949,966.2h-5M949,943.8h-3M949,921.4h-5M949,899h-3M949,876.6h-5M949,854.2h-3M949,831.8h-5M949,809.4h-3M949,787h-5M992,1034v6M1034,1034v3M1076,1034v6M1118,1034v3M1160,1034v6M1202,1034v3M1244,1034v6" stroke="#222" stroke-width="1.3"/>
<g font-size="16" font-weight="bold" text-anchor="end" fill="#222">
<text x="944" y="1017">0</text><text x="944" y="972.2">20</text><text x="944" y="927.4">40</text><text x="944" y="882.6">60</text><text x="944" y="837.8">80</text><text x="944" y="793">100</text>
</g>
<g font-size="16" font-weight="bold" text-anchor="middle" fill="#222">
<text x="992" y="1058">0.5:1</text><text x="1076" y="1058">1:1</text><text x="1160" y="1058">2:1</text><text x="1244" y="1058">3:1</text>
</g>
<text x="1118" y="1083" font-size="15" font-weight="bold" text-anchor="middle" textLength="333" lengthAdjust="spacingAndGlyphs">Ni:Zn Atomic Ratio Used During Synthesis</text>
<text transform="translate(907,887) rotate(-90)" font-size="19" font-weight="bold" text-anchor="middle" textLength="207" lengthAdjust="spacingAndGlyphs">Faradaic Efficiceny %</text>
<polyline points="992,789 1076,796 1160,856 1244,988.3" fill="none" stroke="#000" stroke-width="1.8"/>
<polyline points="992,999.3 1076,988.3 1160,966.7 1244,809.3" fill="none" stroke="#ff1a1a" stroke-width="1.8"/>
<g fill="url(#gK)"><circle cx="992" cy="789" r="7"/><circle cx="1076" cy="796" r="7"/><circle cx="1160" cy="856" r="7"/><circle cx="1244" cy="988.3" r="7"/></g>
<g fill="#ff1a1a"><use xlink:href="#dia8" x="992" y="999.3"/><use xlink:href="#dia8" x="1076" y="988.3"/><use xlink:href="#dia8" x="1160" y="966.7"/><use xlink:href="#dia8" x="1244" y="809.3"/></g>
<line x1="963" y1="939" x2="997" y2="939" stroke="#000" stroke-width="1.8"/>
<circle cx="980" cy="939" r="7" fill="url(#gK)"/>
<line x1="963" y1="966" x2="997" y2="966" stroke="#ff1a1a" stroke-width="1.8"/>
<use xlink:href="#dia8" x="980" y="966" fill="#ff1a1a"/>
<text x="1005" y="946" font-size="20" font-weight="bold" fill="#222">CO</text>
<text x="1005" y="973" font-size="20" font-weight="bold" fill="#222">H<tspan font-size="12" dy="5">2</tspan></text>
</g>
</svg>
</body></html>
